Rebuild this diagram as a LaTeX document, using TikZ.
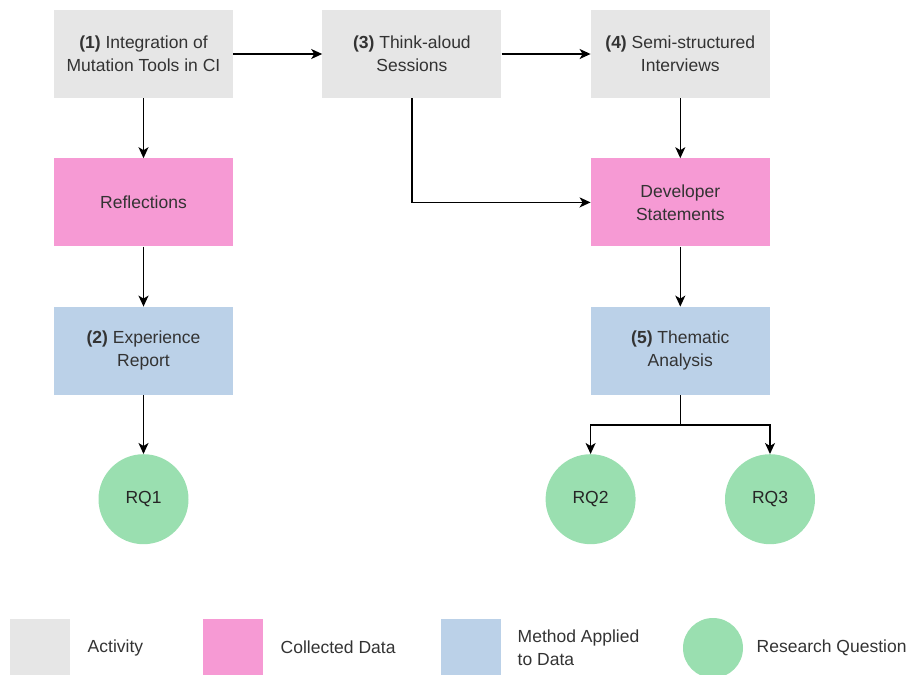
\documentclass[tikz,border=0pt]{standalone}
\usepackage{fontspec}
\setmainfont{Liberation Sans}
\usepackage{xcolor}
\usetikzlibrary{positioning,arrows.meta}

\definecolor{actgray}{HTML}{E6E6E6}
\definecolor{datapink}{HTML}{F69AD4}
\definecolor{methblue}{HTML}{BBD1E8}
\definecolor{rqgreen}{HTML}{9ADFB0}
\definecolor{txtgray}{HTML}{333333}

\begin{document}
\begin{tikzpicture}[x=1pt, y=1pt, node distance=60pt and 89pt,
  >={Stealth[length=11pt, width=10pt, inset=3pt]},
  font=\fontsize{17.5}{23}\selectfont,
  box/.style={minimum width=179pt, minimum height=88pt, inner sep=0pt, align=center, text=txtgray},
  rq/.style={circle, fill=rqgreen, minimum size=90pt, inner sep=0pt, text=black!85},
  conn/.style={->, line width=1.5pt}]
  \useasboundingbox (0,0) rectangle (911,-675);

  % activities
  \node[box, fill=actgray] (integ) at (143.5,-54) {\textbf{(1)} Integration of\\Mutation Tools in CI};
  \node[box, fill=actgray, right=of integ] (think) {\textbf{(3)} Think-aloud\\Sessions};
  \node[box, fill=actgray, right=of think] (interv) {\textbf{(4)} Semi-structured\\Interviews};

  % collected data
  \node[box, fill=datapink, below=of integ] (refl) {Reflections};
  \node[box, fill=datapink, below=of interv] (stmts) {Developer\\Statements};

  % methods
  \node[box, fill=methblue, below=of refl] (report) {\textbf{(2)} Experience\\Report};
  \node[box, fill=methblue, below=of stmts] (thema) {\textbf{(5)} Thematic\\Analysis};

  % research questions
  \node[rq, below=59pt of report] (rq1) {RQ1};
  \node[rq, below=59pt of thema.south west] (rq2) {RQ2};
  \node[rq, below=59pt of thema.south east] (rq3) {RQ3};

  \draw[conn] (integ) -- (think);
  \draw[conn] (think) -- (interv);
  \draw[conn] (integ) -- (refl);
  \draw[conn] (interv) -- (stmts);
  \draw[conn] (think.south) |- (stmts.west);
  \draw[conn] (refl) -- (report);
  \draw[conn] (stmts) -- (thema);
  \draw[conn] (report) -- (rq1);
  \draw[conn] (thema.south) -- ++(0,-30) -| (rq2);
  \draw[conn] (thema.south) -- ++(0,-30) -| (rq3);

  % legend
  \node[fill=actgray, minimum width=60pt, minimum height=57pt, inner sep=0pt] (legact) at (40,-647.5) {};
  \node[text=txtgray, right=14pt of legact] (legacttxt) {Activity};
  \node[fill=datapink, minimum width=60pt, minimum height=57pt, inner sep=0pt] (legdata) at (233,-647.5) {};
  \node[text=txtgray, right=14pt of legdata] (legdatatxt) {Collected Data};
  \node[fill=methblue, minimum width=60pt, minimum height=57pt, inner sep=0pt] (legmeth) at (471,-647.5) {};
  \node[text=txtgray, align=left, right=13pt of legmeth] (legmethtxt) {Method Applied\\to Data};
  \node[circle, fill=rqgreen, minimum size=60pt, inner sep=0pt] (legrq) at (713,-648) {};
  \node[text=txtgray, right=10pt of legrq] (legrqtxt) {Research Question};
\end{tikzpicture}
\end{document}
